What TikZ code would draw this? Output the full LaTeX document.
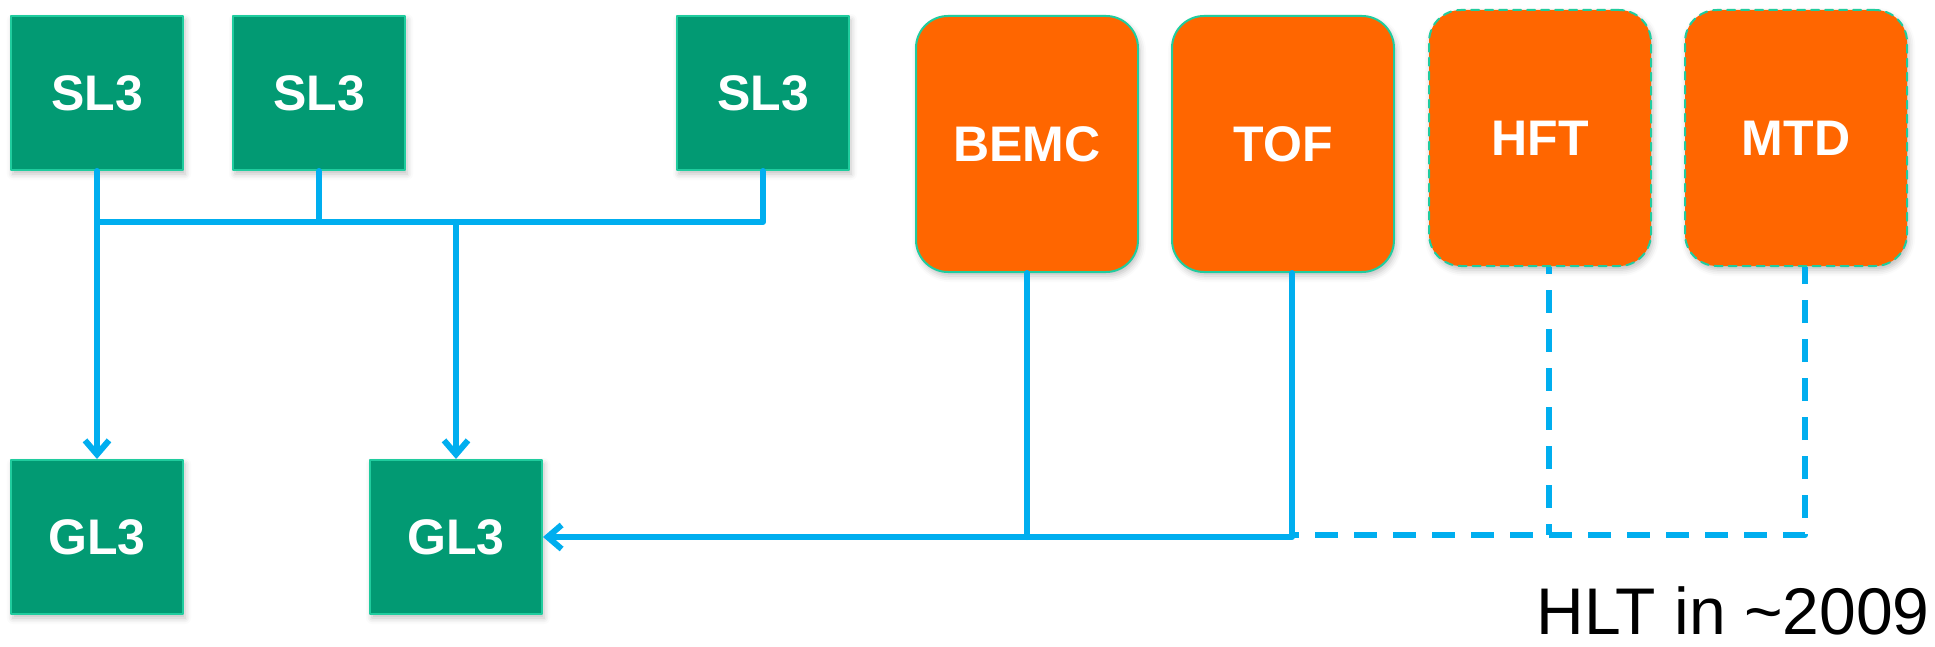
\documentclass[tikz,border=0pt]{standalone}
\usepackage{fontspec}
\setmainfont{Liberation Sans}
\usetikzlibrary{arrows.meta,shadows.blur}
\definecolor{nodegreen}{HTML}{029A73}
\definecolor{edgeteal}{HTML}{20CC9E}
\definecolor{detorange}{HTML}{FF6600}
\definecolor{linkblue}{HTML}{00AEEF}
\begin{document}
\begin{tikzpicture}[x=0.5pt, y=-0.5pt, line join=round, line cap=round,
		>={Straight Barb[length=7pt,width=12pt]},
		l3/.style={draw=edgeteal, line width=1pt, fill=nodegreen, text=white, inner sep=0pt,
			font=\fontsize{25}{30}\selectfont\bfseries, minimum width=86pt, minimum height=77pt,
			blur shadow={shadow xshift=1pt, shadow yshift=-2pt, shadow blur radius=3pt, shadow opacity=25}},
		det/.style={l3, fill=detorange, rounded corners=16pt, minimum width=111pt, minimum height=128pt},
		planned/.style={det, dash pattern=on 4pt off 3pt},
		link/.style={draw=linkblue, line width=3pt},
		future/.style={link, line cap=butt, dash pattern=on 11.5pt off 8pt, dash phase=8pt}]
	\useasboundingbox (0,0) rectangle (1935,647);
	% level-3 farm
	\node[l3] (sl1) at (97,93) {SL3};
	\node[l3] (sl2) at (319,93) {SL3};
	\node[l3] (sl3) at (763,93) {SL3};
	\node[l3] (gl1) at (97,537) {GL3};
	\node[l3] (gl2) at (456,537) {GL3};
	% detectors
	\node[det] (bemc) at (1027,144) {BEMC};
	\node[det] (tof) at (1283,144) {TOF};
	\node[planned] (hft) at (1540,138) {HFT};
	\node[planned] (mtd) at (1796,138) {MTD};
	\coordinate (bus) at (456,222);
	\coordinate (tap) at (1292,537);
	\coordinate (hfttap) at (1549,535);
	\coordinate (mtdtap) at (1805,535);
	\draw[link] (sl1 |- bus) -- (sl3 |- bus) -- (sl3.south);
	\draw[link] (sl2.south) -- (sl2 |- bus);
	\draw[link,->] (sl1.south) -- (gl1.north);
	\draw[link,->] (bus) -- (gl2.north);
	\draw[link] (bemc.south) -- (bemc.south |- tap);
	\draw[link,->] (tap |- tof.south) -- (tap) -- (gl2.east);
	\draw[future] (tap |- mtdtap) -- (mtdtap) -- (mtdtap |- mtd.south);
	\draw[future] (hfttap |- hft.south) -- (hfttap);
	\node[anchor=base east, inner sep=0pt, font=\fontsize{33}{40}\selectfont] (caption) at (1930,634) {HLT in \textasciitilde2009};
\end{tikzpicture}
\end{document}
